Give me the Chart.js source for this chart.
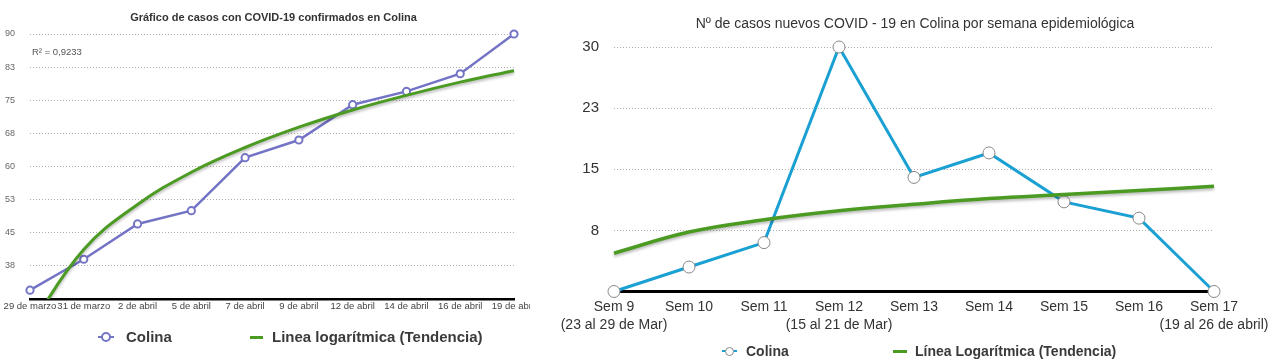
<!DOCTYPE html>
<html>
<head>
<meta charset="utf-8">
<script src="https://cdn.jsdelivr.net/npm/chart.js@4.4.1/dist/chart.umd.min.js"></script>
<style>
  html,body{margin:0;padding:0;background:#fff;}
  body{width:1280px;height:363px;position:relative;overflow:hidden;font-family:"Liberation Sans",Arial,sans-serif;}
  .abs{position:absolute;white-space:nowrap;}
  .ttlL{left:0;width:547px;top:10px;text-align:center;font-weight:bold;font-size:11px;line-height:14px;color:#333;}
  .ttlR{left:615px;width:600px;top:15px;text-align:center;font-size:14px;line-height:16px;color:#333;}
  .r2{left:32px;top:46px;font-size:9.5px;line-height:12px;color:#555;}
  .lg{font-weight:bold;color:#3a3a3a;}
  .dot{position:absolute;border-radius:50%;background:#fff;box-sizing:border-box;}
  .bar{position:absolute;}
</style>
</head>
<body>
<div class="abs" style="left:0;top:0;width:530px;height:363px;overflow:hidden;">
  <canvas id="c1" width="545" height="363"></canvas>
</div>
<div class="abs" style="left:540px;top:0;width:740px;height:363px;">
  <canvas id="c2" width="740" height="363"></canvas>
</div>

<div class="abs ttlL">Gráfico de casos con COVID-19 confirmados en Colina</div>
<div class="abs ttlR">Nº de casos nuevos COVID - 19 en Colina por semana epidemiológica</div>
<div class="abs r2">R² = 0,9233</div>

<!-- left legend -->
<div class="bar" style="left:98px;top:336px;width:16px;height:2px;background:#7474c6;"></div>
<div class="dot" style="left:101px;top:332px;width:10px;height:10px;border:2.5px solid #7474c6;"></div>
<div class="abs lg" style="left:126px;top:328px;font-size:15px;line-height:18px;">Colina</div>
<div class="bar" style="left:250px;top:335.5px;width:13px;height:3.5px;background:#4b9a22;"></div>
<div class="abs lg" style="left:272px;top:328px;font-size:15px;line-height:18px;">Linea logarítmica (Tendencia)</div>

<!-- right legend -->
<div class="bar" style="left:722px;top:350px;width:15px;height:2px;background:#1aa0d2;"></div>
<div class="dot" style="left:725px;top:347px;width:9px;height:9px;border:1px solid #888;"></div>
<div class="abs lg" style="left:746px;top:342px;font-size:14px;line-height:18px;">Colina</div>
<div class="bar" style="left:893px;top:349.5px;width:14px;height:3.5px;background:#4b9a22;"></div>
<div class="abs lg" style="left:915px;top:342px;font-size:14px;line-height:18px;">Línea Logarítmica (Tendencia)</div>

<script>
// ---------- data ----------
const leftDates = ["29 de marzo","31 de marzo","2 de abril","5 de abril","7 de abril","9 de abril","12 de abril","14 de abril","16 de abril","19 de abril"];
const leftCases = [32,39,47,50,62,66,74,77,81,90];
const leftTrend = [23.7,41.2,51.4,58.7,64.3,68.9,72.8,76.1,79.1,81.7];
const leftYMin = 30, leftYMax = 90, leftYStep = 7.5;

const weekLabels = [["Sem 9","(23 al 29 de Mar)"],"Sem 10","Sem 11",["Sem 12","(15 al 21 de Mar)"],"Sem 13","Sem 14","Sem 15","Sem 16",["Sem 17","(19 al 26 de abril)"]];
const weekCases = [0,3,6,30,14,17,11,9,0];
const weekTrend = [4.7,7.3,8.8,9.9,10.7,11.4,11.9,12.4,12.9];
const rightYMin = 0, rightYMax = 30, rightYStep = 7.5;

// ---------- helpers ----------
const FONT = "'Liberation Sans', Arial, sans-serif";
const shadowPlugin = {
  id: 'trendShadow',
  beforeDatasetDraw(chart, args) {
    if (chart.data.datasets[args.index].isTrend) {
      const c = chart.ctx; c.save();
      c.shadowColor = 'rgba(0,0,0,0.28)';
      c.shadowBlur = 3; c.shadowOffsetX = 0; c.shadowOffsetY = 2;
    }
  },
  afterDatasetDraw(chart, args) {
    if (chart.data.datasets[args.index].isTrend) chart.ctx.restore();
  }
};

// ---------- left chart ----------
new Chart(document.getElementById('c1'), {
  type: 'line',
  data: {
    labels: leftDates,
    datasets: [
      { label: 'Colina', data: leftCases, borderColor: '#7474c6', borderWidth: 2.5,
        pointRadius: 3.6, pointBorderWidth: 2, pointBackgroundColor: '#fff', pointBorderColor: '#7474c6',
        tension: 0, order: 2, clip: false },
      { label: 'Linea logarítmica (Tendencia)', isTrend: true, data: leftTrend, borderColor: '#4b9a22', borderWidth: 3,
        pointRadius: 0, tension: 0.4, order: 1 }
    ]
  },
  options: {
    responsive: false, animation: false,
    layout: { padding: { top: 34, right: 31, left: 0, bottom: 0 } },
    plugins: { legend: { display: false }, title: { display: false }, tooltip: { enabled: false } },
    scales: {
      x: {
        grid: { display: false, drawTicks: false },
        border: { display: true, color: '#000', width: 2.5 },
        ticks: { autoSkip: false, maxRotation: 0, minRotation: 0, padding: 2, color: '#444',
                 font: { family: FONT, size: 9.5 } },
        afterFit(s) { s.height = 64; }
      },
      y: {
        min: leftYMin, max: leftYMax,
        grid: { color: '#b0b0b0', lineWidth: 1, drawTicks: false },
        border: { display: false, dash: [1, 2] },
        ticks: { stepSize: leftYStep, padding: 15, color: '#666', font: { family: FONT, size: 9 },
                 callback: v => v === leftYMin ? '' : Math.round(v) },
        afterFit(s) { s.width = 30; }
      }
    }
  },
  plugins: [shadowPlugin]
});

// ---------- right chart ----------
new Chart(document.getElementById('c2'), {
  type: 'line',
  data: {
    labels: weekLabels,
    datasets: [
      { label: 'Colina', data: weekCases, borderColor: '#1aa0d2', borderWidth: 3,
        pointRadius: 6, pointBorderWidth: 1, pointBackgroundColor: '#fff', pointBorderColor: '#888',
        tension: 0, order: 2, clip: false },
      { label: 'Línea Logarítmica (Tendencia)', isTrend: true, data: weekTrend, borderColor: '#4b9a22', borderWidth: 3.5,
        pointRadius: 0, tension: 0.4, order: 1 }
    ]
  },
  options: {
    responsive: false, animation: false,
    layout: { padding: { top: 47, right: 66, left: 0, bottom: 0 } },
    plugins: { legend: { display: false }, title: { display: false }, tooltip: { enabled: false } },
    scales: {
      x: {
        grid: { display: false, drawTicks: false },
        border: { display: true, color: '#000', width: 3 },
        ticks: { autoSkip: false, maxRotation: 0, minRotation: 0, padding: 7, color: '#333',
                 font: { family: FONT, size: 14, lineHeight: 1.29 } },
        afterFit(s) { s.height = 71.5; }
      },
      y: {
        min: rightYMin, max: rightYMax,
        grid: { color: '#b0b0b0', lineWidth: 1, drawTicks: false },
        border: { display: false, dash: [1, 2] },
        ticks: { stepSize: rightYStep, padding: 15, color: '#333', font: { family: FONT, size: 15 },
                 callback: v => v === rightYMin ? '' : Math.round(v) },
        afterFit(s) { s.width = 74; }
      }
    }
  },
  plugins: [shadowPlugin]
});
</script>
</body>
</html>
